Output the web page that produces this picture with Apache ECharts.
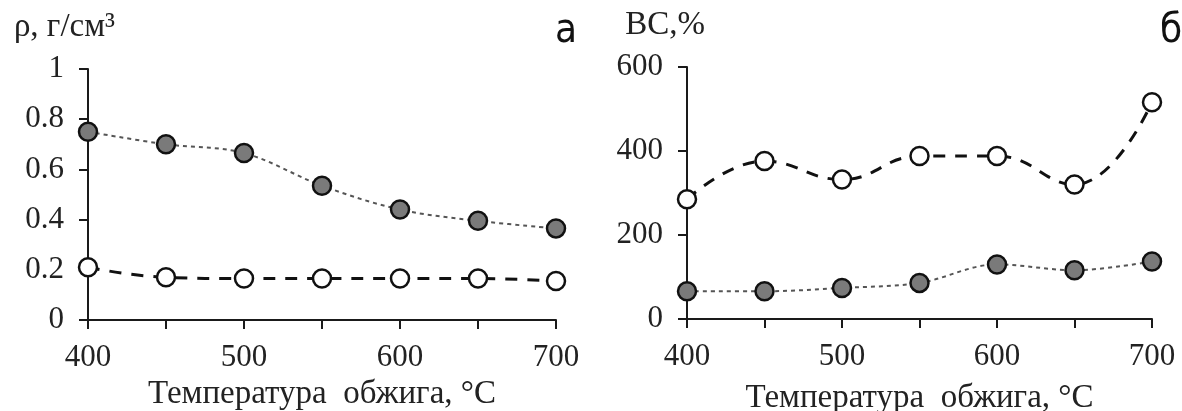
<!DOCTYPE html>
<html>
<head>
<meta charset="utf-8">
<script src="https://cdn.jsdelivr.net/npm/echarts@6/dist/echarts.min.js"></script>
<style>
  html, body { margin: 0; padding: 0; background: #fff; }
  #chart { width: 1182px; height: 411px; }
</style>
</head>
<body>
<div id="chart"></div>
<script>
// температура обжига, °C
const temps = [400, 450, 500, 550, 600, 650, 700]
// плотность, г/см3
const densityFilled = [0.75, 0.70, 0.665, 0.535, 0.44, 0.395, 0.365]
const densityOpen = [0.21, 0.17, 0.165, 0.165, 0.165, 0.165, 0.155]
// водопоглощение, %
const absorpOpen = [285, 376, 332, 388, 388, 320, 516]
const absorpFilled = [66, 66, 74, 86, 130, 116, 137]

const serif = '"Liberation Serif", "Times New Roman", serif'
const axisColor = '#1a1a1a'

const pairs = (ys) => temps.map((t, i) => [t, ys[i]])

function xAxisCfg(gridIndex) {
  return {
    gridIndex,
    type: 'value',
    min: 400, max: 700, interval: 50,
    name: 'Температура  обжига, °C',
    nameLocation: 'middle',
    nameGap: gridIndex === 0 ? 54 : 63,
    nameTextStyle: { fontFamily: serif, fontSize: 33, color: '#222' },
    axisLine: { lineStyle: { color: axisColor, width: 2 } },
    axisTick: { length: 9, lineStyle: { color: axisColor, width: 2 } },
    axisLabel: {
      margin: 22, fontFamily: serif, fontSize: 31, color: '#222',
      formatter: v => (v % 100 === 0 ? String(v) : '')
    },
    splitLine: { show: false }
  }
}

function yAxisCfg(gridIndex, max, interval, name) {
  return {
    gridIndex,
    type: 'value',
    min: 0, max, interval,
    name,
    nameLocation: 'end',
    nameGap: 25,
    nameTextStyle: { fontFamily: serif, fontSize: 33, color: '#222', align: 'right', padding: [0, gridIndex === 0 ? -27 : -18, 0, 0] },
    axisLine: { show: true, lineStyle: { color: axisColor, width: 2 } },
    axisTick: { show: true, length: 9, lineStyle: { color: axisColor, width: 2 } },
    axisLabel: { margin: 24, fontFamily: serif, fontSize: 31, color: '#222' },
    splitLine: { show: false }
  }
}

function filledSeries(idx, ys) {
  return {
    type: 'line', xAxisIndex: idx, yAxisIndex: idx,
    data: pairs(ys), smooth: 0.35,
    symbol: 'circle', symbolSize: 18,
    itemStyle: { color: '#7a7a7a', borderColor: '#111', borderWidth: 2.5 },
    lineStyle: { color: '#555', width: 2, type: [4, 4] },
    z: 3
  }
}

function openSeries(idx, ys) {
  return {
    type: 'line', xAxisIndex: idx, yAxisIndex: idx,
    data: pairs(ys), smooth: 0.45,
    symbol: 'circle', symbolSize: 18,
    itemStyle: { color: '#fff', borderColor: '#111', borderWidth: 2.5 },
    lineStyle: { color: '#111', width: 3, type: [12, 10] },
    z: 3
  }
}

const chart = echarts.init(document.getElementById('chart'))
chart.setOption({
  backgroundColor: '#fff',
  animation: false,
  grid: [
    { left: 88, top: 69, width: 468, height: 251, outerBoundsMode: 'none', containLabel: false },
    { left: 687, top: 67, width: 465, height: 252, outerBoundsMode: 'none', containLabel: false }
  ],
  xAxis: [xAxisCfg(0), xAxisCfg(1)],
  yAxis: [
    yAxisCfg(0, 1, 0.2, 'ρ, г/см³'),
    yAxisCfg(1, 600, 200, 'ВС,%')
  ],
  graphic: [
    { type: 'text', left: 555, top: 12, style: { text: 'а', font: '40px "DejaVu Sans Condensed", "DejaVu Sans", sans-serif', fill: '#111' } },
    { type: 'text', left: 1160, top: 12, style: { text: 'б', font: '40px "DejaVu Sans Condensed", "DejaVu Sans", sans-serif', fill: '#111' } }
  ],
  series: [
    filledSeries(0, densityFilled),
    openSeries(0, densityOpen),
    openSeries(1, absorpOpen),
    filledSeries(1, absorpFilled)
  ]
})
</script>
</body>
</html>
